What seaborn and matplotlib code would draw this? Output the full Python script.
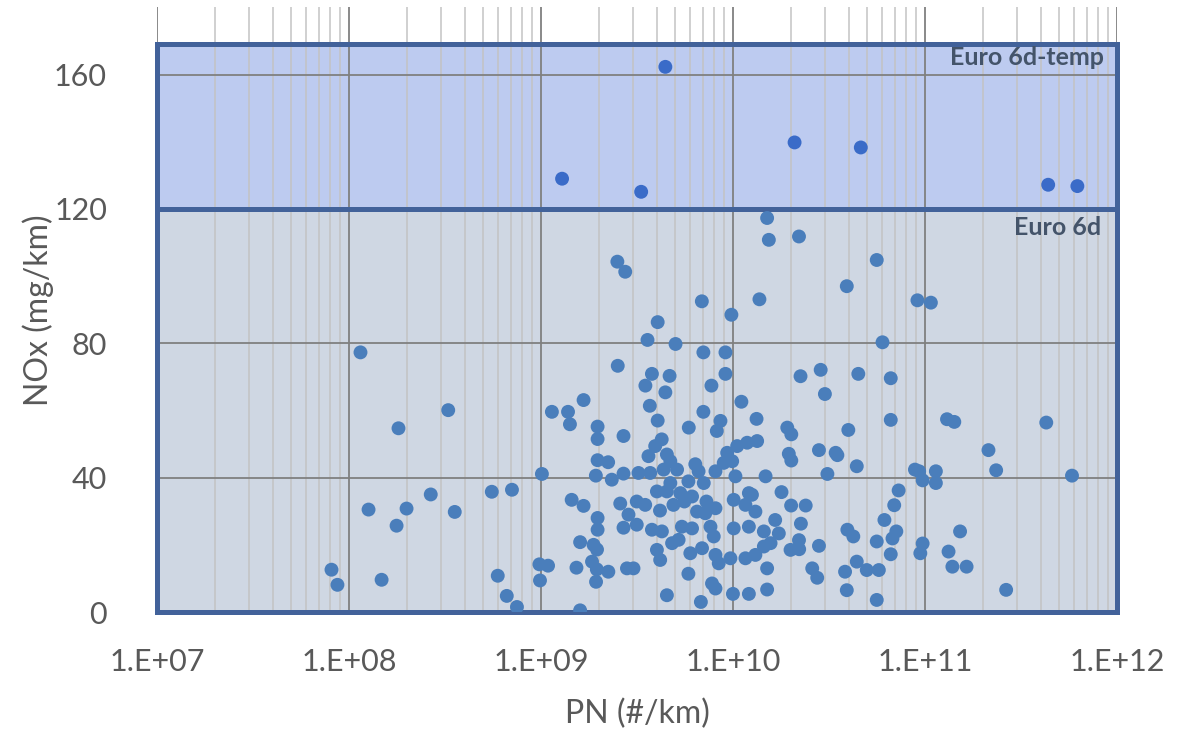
import numpy as np
import pandas as pd
import seaborn as sns
import matplotlib.pyplot as plt
from matplotlib.ticker import LogLocator, FuncFormatter, NullFormatter

# PN given as exponent (log10 of #/km), NOx in mg/km
pn_exp_low = [
    7.909, 7.940, 8.060, 8.102, 8.170, 8.258, 8.248, 8.300, 8.426, 8.517,
    8.551, 8.744, 8.775, 8.822, 8.849, 8.875, 9.005, 8.992, 9.037, 8.995,
    9.057, 9.141, 9.151, 9.222, 9.160, 9.222, 9.398, 9.439, 9.400, 9.295,
    9.295, 9.430, 9.295, 9.350, 9.286, 9.369, 9.430, 9.413, 9.456, 9.430,
    9.295, 9.295, 9.204, 9.274, 9.292, 9.266, 9.185, 9.291, 9.351, 9.287,
    9.448, 9.482, 9.204, 9.838, 9.992, 10.138, 9.608, 9.555, 9.701, 9.846,
    9.961, 9.578, 9.670, 9.961, 9.544, 9.648, 9.888, 9.567, 9.846, 10.044,
    9.608, 10.123, 9.935, 9.916, 9.770, 9.629, 9.595, 9.560, 9.656, 9.674,
    9.970, 10.022, 10.074, 10.126, 9.996, 9.508, 9.569, 9.639, 9.709, 9.821,
    9.909, 9.952, 10.013, 9.848, 9.674, 9.604, 9.656, 9.726, 9.787, 9.690,
    9.499, 9.543, 9.813, 9.856, 9.909, 10.004, 10.083, 10.065, 10.117, 9.499,
    9.578, 9.630, 9.734, 9.787, 9.883, 9.900, 10.004, 10.083, 9.683, 9.717,
    9.604, 9.621, 9.778, 9.839, 9.909, 9.926, 9.987, 10.065, 10.117, 9.768,
    9.891, 9.909, 9.656, 9.833, 10.000, 10.083, 10.178, 10.178, 10.187, 10.344,
    10.749, 10.593, 10.961, 11.031, 10.779, 10.457, 10.352, 10.653, 10.822, 10.479,
    10.822, 11.115, 11.153, 10.283, 10.304, 10.601, 10.291, 10.304, 10.448, 10.535,
    10.544, 10.645, 10.492, 10.170, 10.948, 10.970, 10.988, 11.057, 11.057, 10.253,
    10.303, 10.379, 10.354, 10.220, 10.239, 10.196, 10.161, 10.344, 10.300, 10.345,
    10.448, 10.178, 10.413, 10.439, 10.596, 10.627, 10.863, 10.840, 10.789, 10.851,
    10.831, 10.749, 10.822, 10.988, 10.976, 11.183, 11.123, 11.143, 11.217, 10.645,
    10.697, 10.760, 10.584, 10.593, 10.749, 11.632, 11.331, 11.371, 11.766, 11.423,
    10.099, 10.161, 9.768, 9.747, 9.620, 9.804, 9.862,
]
nox_low = [
    12.6, 8.1, 77.3, 30.5, 9.6, 54.7, 25.7, 30.8, 35.0, 60.1,
    29.8, 35.8, 10.8, 4.8, 36.4, 1.5, 41.1, 14.2, 13.8, 9.4,
    59.6, 59.6, 55.9, 63.1, 33.4, 31.6, 104.3, 101.3, 73.3, 55.2,
    51.5, 52.4, 45.2, 44.6, 40.6, 39.4, 41.2, 32.3, 29.0, 25.1,
    28.0, 24.5, 20.8, 20.0, 18.6, 15.0, 13.2, 12.7, 12.0, 9.0,
    13.0, 13.0, 0.5, 92.5, 88.5, 93.1, 86.3, 81.0, 79.8, 77.3,
    77.3, 70.9, 70.3, 70.9, 67.4, 65.4, 67.4, 61.4, 59.6, 62.6,
    57.0, 57.5, 56.9, 53.9, 54.9, 51.4, 49.4, 46.4, 46.9, 44.9,
    47.4, 49.4, 50.4, 50.9, 44.9, 41.4, 41.4, 42.4, 42.4, 41.9,
    41.9, 44.4, 40.4, 38.4, 38.4, 35.9, 35.9, 35.4, 34.4, 31.9,
    32.9, 31.9, 29.9, 29.4, 30.9, 33.4, 35.4, 31.9, 29.9, 26.0,
    24.5, 24.0, 25.4, 24.9, 25.4, 22.5, 24.9, 25.4, 20.5, 21.5,
    18.5, 15.5, 17.5, 19.0, 17.0, 14.5, 16.0, 16.0, 17.0, 11.4,
    8.5, 7.0, 5.0, 3.0, 5.4, 5.4, 6.7, 117.3, 110.8, 111.8,
    104.8, 97.0, 92.8, 92.1, 80.3, 72.1, 70.2, 70.9, 69.6, 64.9,
    57.2, 57.4, 56.6, 54.9, 52.9, 54.2, 47.1, 45.1, 48.2, 47.4,
    46.7, 43.4, 41.1, 40.4, 42.4, 41.9, 39.2, 41.9, 38.4, 35.7,
    31.7, 31.7, 26.3, 27.4, 23.4, 20.5, 19.5, 21.4, 18.5, 18.7,
    19.7, 13.0, 13.0, 10.2, 24.5, 22.5, 36.2, 31.8, 27.4, 24.0,
    21.9, 21.0, 17.2, 20.4, 17.5, 24.0, 18.0, 13.5, 13.5, 15.0,
    12.5, 12.5, 12.0, 6.5, 3.6, 56.4, 48.2, 42.2, 40.6, 6.6,
    34.9, 24.0, 38.9, 32.9, 30.2, 44.0, 32.9,
]

# points above the Euro 6d limit
pn_exp_high = [9.648, 9.110, 9.522, 10.321, 10.666, 11.642, 11.794]
nox_high = [162.3, 129.0, 125.1, 139.8, 138.3, 127.2, 126.8]

euro6d_limit = 120
euro6d_temp_limit = 169
y_ticks = [0, 40, 80, 120, 160]

df = pd.DataFrame({
    "PN": 10 ** np.array(pn_exp_low + pn_exp_high),
    "NOx": nox_low + nox_high,
    "zone": ["low"] * len(nox_low) + ["high"] * len(nox_high),
})

sns.set_style("white")
plt.rcParams["font.family"] = ["Lato", "DejaVu Sans"]

fig = plt.figure(figsize=(11.91, 7.32), dpi=100)
ax = fig.add_axes([0.1318, 0.1639, 0.806, 0.826])

# Euro 6d / 6d-temp bands
ax.axhspan(0, euro6d_limit, facecolor="#cfd7e3", edgecolor="none", zorder=0.1)
ax.axhspan(euro6d_limit, euro6d_temp_limit, facecolor="#bdcbf0", edgecolor="none", zorder=0.1)

sns.scatterplot(data=df, x="PN", y="NOx", hue="zone",
                palette={"low": "#4a7ebb", "high": "#3a6bc8"},
                s=100, linewidth=0, legend=False, zorder=3, ax=ax)

ax.axhspan(0, euro6d_limit, fill=False, edgecolor="#42629a", lw=3.6, zorder=1.6, clip_on=False)
ax.axhspan(euro6d_limit, euro6d_temp_limit, fill=False, edgecolor="#42629a", lw=3.6, zorder=1.6, clip_on=False)

ax.set_xscale("log")
ax.set_xlim(1e7, 1e12)
ax.set_ylim(0, 180)
ax.set_yticks(y_ticks)
ax.xaxis.set_major_locator(LogLocator(base=10, numticks=10))
ax.xaxis.set_minor_locator(LogLocator(base=10, subs=np.arange(2, 10), numticks=20))
ax.xaxis.set_major_formatter(FuncFormatter(lambda v, p: f"1.E+{int(round(np.log10(v))):02d}"))
ax.xaxis.set_minor_formatter(NullFormatter())

ax.set_axisbelow(True)
ax.grid(which="major", color="#808080", lw=1.3, zorder=0.5)
ax.grid(which="minor", axis="x", color="#c3c3c3", lw=1.1, zorder=0.5)
for s in ax.spines.values():
    s.set_visible(False)

ax.tick_params(axis="both", which="both", length=0, labelsize=22, labelcolor="#595959")
ax.tick_params(axis="y", pad=36)
ax.tick_params(axis="x", pad=26)

ax.set_xlabel("PN (#/km)", fontsize=23, color="#595959", labelpad=16)
ax.set_ylabel("NOx (mg/km)", fontsize=23, color="#595959", labelpad=0)

ax.text(10 ** 11.93, 165, "Euro 6d-temp", ha="right", va="center",
        fontsize=18, fontweight="bold", color="#44546a", zorder=4)
ax.text(10 ** 11.92, 114.5, "Euro 6d", ha="right", va="center",
        fontsize=18, fontweight="bold", color="#44546a", zorder=4)

plt.savefig("out.png", dpi=100)
plt.close()
